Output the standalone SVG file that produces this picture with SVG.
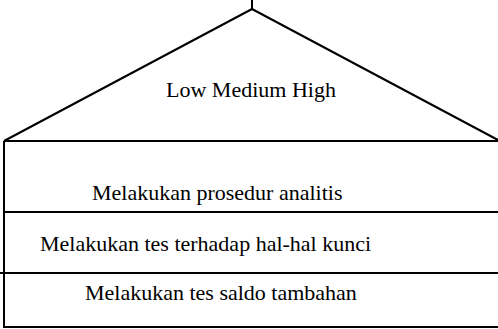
<svg xmlns="http://www.w3.org/2000/svg" width="498" height="329" viewBox="0 0 498 329">
<style>
.ln{stroke:#000;stroke-width:2;fill:none}
.t{font-family:"Liberation Serif","Times New Roman",serif;font-size:22px;fill:#000}
</style>
<rect width="498" height="329" fill="#fff"/>
<g id="connectors">
<line class="ln" x1="252" y1="0" x2="252" y2="9"/>
</g>
<g id="roof">
<polyline class="ln" points="4,141 252,9 498,140"/>
<text class="t" x="166" y="97">Low Medium High</text>
</g>
<g id="level1">
<line class="ln" x1="4" y1="141" x2="498" y2="141"/>
<text class="t" x="92" y="200">Melakukan prosedur analitis</text>
</g>
<g id="level2">
<line class="ln" x1="4" y1="212" x2="498" y2="212"/>
<text class="t" x="40" y="251">Melakukan tes terhadap hal-hal kunci</text>
</g>
<g id="level3">
<line class="ln" x1="0" y1="273" x2="498" y2="273"/>
<text class="t" x="85" y="300">Melakukan tes saldo tambahan</text>
</g>
<g id="frame">
<line class="ln" x1="4" y1="141" x2="4" y2="328"/>
<line class="ln" x1="4" y1="327" x2="498" y2="327"/>
</g>
</svg>
